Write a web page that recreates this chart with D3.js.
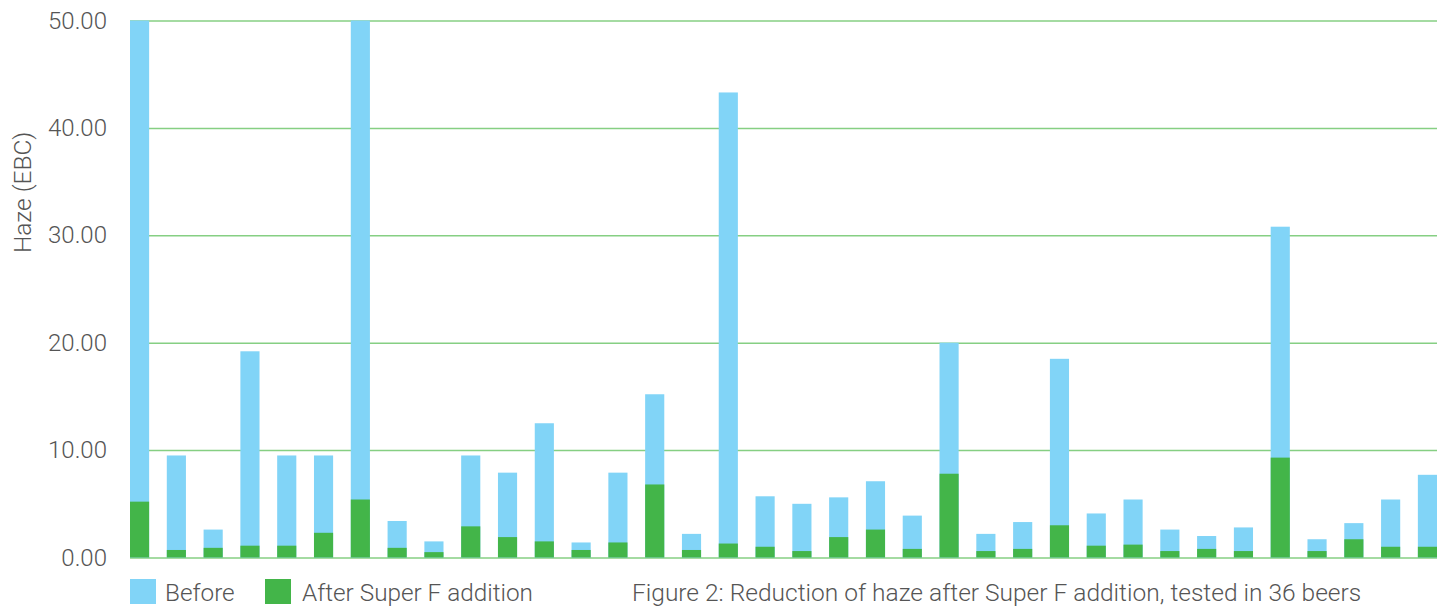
<!DOCTYPE html>
<html>
<head>
<meta charset="utf-8">
<script src="https://cdn.jsdelivr.net/npm/d3@7"></script>
<style>
  body { margin: 0; background: #fff; }
  text { font-family: Roboto, "Noto Sans", sans-serif; font-weight: 300; fill: #555; }
</style>
</head>
<body>
<div id="chart-area"></div>
<script>
// haze per beer, EBC
var beers = d3.range(1, 37).map(String);
var before = [50.0, 9.5, 2.6, 19.2, 9.5, 9.5, 50.0, 3.4, 1.5, 9.5,
	7.9, 12.5, 1.4, 7.9, 15.2, 2.2, 43.3, 5.7, 5.0, 5.6,
	7.1, 3.9, 20.0, 2.2, 3.3, 18.5, 4.1, 5.4, 2.6, 2.0,
	2.8, 30.8, 1.7, 3.2, 5.4, 7.7];
var after = [5.2, 0.7, 0.9, 1.1, 1.1, 2.3, 5.4, 0.9, 0.5, 2.9,
	1.9, 1.5, 0.7, 1.4, 6.8, 0.7, 1.3, 1.0, 0.6, 1.9,
	2.6, 0.8, 7.8, 0.6, 0.8, 3.0, 1.1, 1.2, 0.6, 0.8,
	0.6, 9.3, 0.6, 1.7, 1.0, 1.0];
var yTicks = [0, 10, 20, 30, 40, 50];
var seriesNames = ['Before', 'After Super F addition'];
var caption = 'Figure 2: Reduction of haze after Super F addition, tested in 36 beers';

var margin = { top: 20.5, right: 14, bottom: 49.5, left: 130 },
	width = 1451 - margin.left - margin.right,
	height = 607 - margin.top - margin.bottom;

var colors = ['#81d4f7', '#43b549'];
var gridColor = '#86cf83';

var svg = d3.select('#chart-area')
	.append('svg')
		.attr('width', 1451)
		.attr('height', 607);

var g = svg.append('g')
	.attr('transform', 'translate(' + margin.left + ', ' + margin.top + ')');

var x = d3.scaleBand()
	.domain(beers)
	.range([0, width])
	.paddingInner(0.48)
	.paddingOuter(0);

var y = d3.scaleLinear()
	.domain([0, 50])
	.range([height, 0]);

// gridlines + tick labels
var yAxis = g.append('g')
	.call(d3.axisLeft(y).tickValues(yTicks).tickSize(-width).tickFormat(d3.format('.2f')).tickPadding(23));
yAxis.select('.domain').remove();
yAxis.selectAll('line').attr('stroke', gridColor).attr('stroke-width', 1.5);
yAxis.selectAll('text')
	.attr('font-size', '24px')
	.style('font-family', 'Roboto, sans-serif')
	.style('font-weight', 300)
	.attr('fill', '#555');

g.append('text')
	.attr('x', -172)
	.attr('y', -99)
	.attr('transform', 'rotate(-90)')
	.attr('text-anchor', 'middle')
	.attr('font-size', '24.5px')
	.text('Haze (EBC)');

g.selectAll('.before')
	.data(before)
	.enter().append('rect')
		.attr('class', 'before')
		.attr('x', (d, i) => x(beers[i]))
		.attr('y', d => y(d))
		.attr('width', x.bandwidth())
		.attr('height', d => height - y(d))
		.attr('fill', colors[0]);

g.selectAll('.after')
	.data(after)
	.enter().append('rect')
		.attr('class', 'after')
		.attr('x', (d, i) => x(beers[i]))
		.attr('y', d => y(d))
		.attr('width', x.bandwidth())
		.attr('height', d => height - y(d))
		.attr('fill', colors[1]);

// legend
var legendX = [0, 135];
var legend = g.selectAll('.legend')
	.data(seriesNames)
	.enter().append('g')
		.attr('transform', (d, i) => 'translate(' + legendX[i] + ', ' + (height + 21.5) + ')');
legend.append('rect')
	.attr('width', 26)
	.attr('height', 25)
	.attr('fill', (d, i) => colors[i]);
legend.append('text')
	.attr('x', (d, i) => 35 + i * 2)
	.attr('y', 22)
	.attr('font-size', '24.3px')
	.text(d => d);

// caption sits a touch higher than the original so its descenders stay on the page
g.append('text')
	.attr('x', 502)
	.attr('y', height + 43.5)
	.attr('font-size', '24.5px')
	.text(caption);
</script>
</body>
</html>
